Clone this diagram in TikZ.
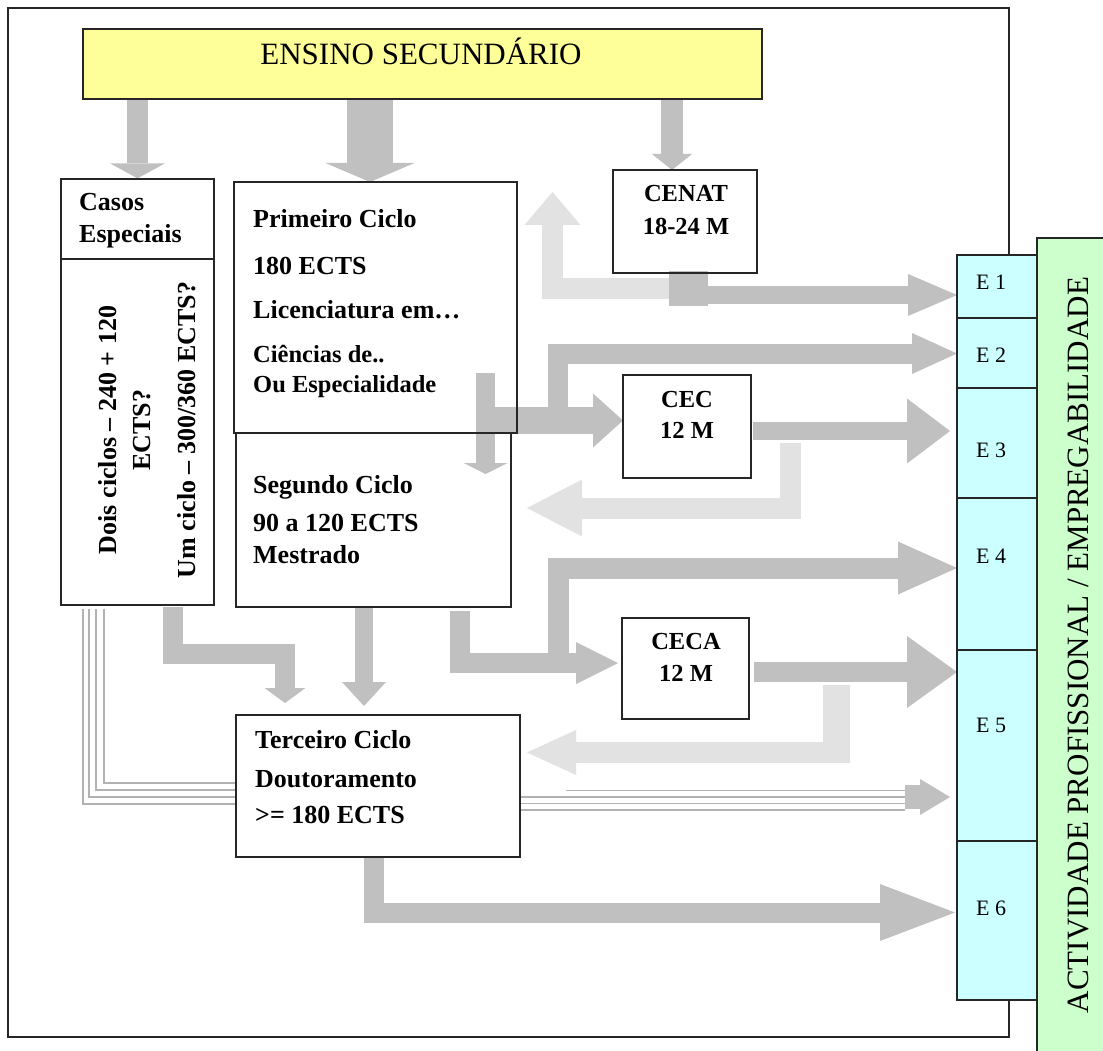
\documentclass[tikz,border=0pt]{standalone}
\usepackage{fontspec}
\setmainfont{Liberation Serif}
\usetikzlibrary{arrows.meta,backgrounds}
\definecolor{arrgray}{RGB}{192,192,192}
\definecolor{arrlight}{RGB}{226,226,226}
\definecolor{ensinoyellow}{RGB}{255,255,153}
\definecolor{ecyan}{RGB}{204,255,255}
\definecolor{agreen}{RGB}{204,255,204}
\definecolor{triplegray}{RGB}{178,178,178}
\begin{document}
\begin{tikzpicture}[x=1pt,y=-1pt,line join=miter,
    box/.style={draw=black!85,line width=1.3pt,inner sep=0pt},
    ecell/.style={box,fill=ecyan,minimum width=80pt},
    fat/.style n args={3}{draw=arrgray,line width=#1,line cap=butt,-{Triangle[length=#2,width=#3,line width=0pt]}},
    lfat/.style n args={3}{draw=arrlight,line width=#1,line cap=butt,-{Triangle[length=#2,width=#3,line width=0pt]}},
    triple/.style={draw=triplegray,line width=1.8pt},
    bigtxt/.style={inner sep=0pt,font=\fontsize{31pt}{36pt}\selectfont},
    cyctxt/.style={inner sep=0pt,anchor=base west,font=\fontsize{26pt}{30pt}\selectfont\bfseries},
    smalltxt/.style={inner sep=0pt,anchor=base west,font=\fontsize{24.5pt}{28pt}\selectfont\bfseries},
    ctxt/.style={inner sep=0pt,anchor=base,font=\fontsize{24.5pt}{28pt}\selectfont\bfseries},
    casrot/.style={inner sep=0pt,anchor=base,rotate=90,font=\fontsize{26pt}{30pt}\selectfont\bfseries},
    etxt/.style={inner sep=0pt,anchor=base west,font=\fontsize{22pt}{26pt}\selectfont}]
\useasboundingbox (0,0) rectangle (1103,1051);
% ---- caixas (px, origem no canto superior esquerdo, y para baixo) ----
\node[box,fill=ensinoyellow,minimum width=679pt,minimum height=70pt] (ensino) at (422.5,64) {};
\node[box,minimum width=153pt,minimum height=426pt] (casos) at (137.5,392) {};
\node[box,minimum width=283pt,minimum height=251pt] (primeiro) at (375.5,307.5) {};
\node[box,minimum width=275pt,minimum height=174pt] (segundo) at (373.5,520) {};
\node[box,minimum width=284pt,minimum height=142pt] (terceiro) at (378,786) {};
\node[box,minimum width=144pt,minimum height=103pt] (cenat) at (685,221.5) {};
\node[box,minimum width=128pt,minimum height=103pt] (cec) at (687,426.5) {};
\node[box,minimum width=127pt,minimum height=101pt] (ceca) at (685.5,668.5) {};
\coordinate (casosdiv) at (0,259);
\draw[box] (casos.west |- casosdiv) -- (casos.east |- casosdiv);   % divisao Casos / texto rodado
% ---- coluna E1..E6 e faixa verde ----
\node[box,fill=agreen,minimum width=73pt,minimum height=822pt] (activ) at (1073.5,649) {};
\node[ecell,minimum height=63pt]  (e1) at (997,286.5) {};
\node[ecell,minimum height=70pt]  (e2) at (997,353) {};
\node[ecell,minimum height=110pt] (e3) at (997,443) {};
\node[ecell,minimum height=152pt] (e4) at (997,574) {};
\node[ecell,minimum height=191pt] (e5) at (997,745.5) {};
\node[ecell,minimum height=159pt] (e6) at (997,920.5) {};
% ---- textos ----
\node[bigtxt,anchor=base] (ensinotxt) at (421,65) {ENSINO SECUNDÁRIO};
\node[bigtxt,anchor=base,rotate=90] (activtxt) at (1088,645) {ACTIVIDADE PROFISSIONAL / EMPREGABILIDADE};
\node[cyctxt] (casos1) at (79,211) {Casos};
\node[cyctxt] (casos2) at (79,243) {Especiais};
\node[casrot] (dois1) at (116,430) {Dois ciclos – 240 + 120};
\node[casrot] (dois2) at (150,430) {ECTS?};
\node[casrot] (um1) at (195,430) {Um ciclo – 300/360 ECTS?};
\node[cyctxt] (prim1) at (253,228) {Primeiro Ciclo};
\node[cyctxt] (prim2) at (253,274) {180 ECTS};
\node[cyctxt] (prim3) at (253,318) {Licenciatura em…};
\node[smalltxt] (prim4) at (253,362) {Ciências de..};
\node[smalltxt] (prim5) at (253,392) {Ou Especialidade};
\node[cyctxt] (seg1) at (253,493) {Segundo Ciclo};
\node[cyctxt] (seg2) at (253,531) {90 a 120 ECTS};
\node[cyctxt] (seg3) at (253,563) {Mestrado};
\node[cyctxt] (ter1) at (255,748) {Terceiro Ciclo};
\node[cyctxt] (ter2) at (255,787) {Doutoramento};
\node[cyctxt] (ter3) at (255,823) {>= 180 ECTS};
\node[ctxt] (cenat1) at (686,202) {CENAT};
\node[ctxt] (cenat2) at (686,234) {18-24 M};
\node[ctxt] (cec1) at (687,407) {CEC};
\node[ctxt] (cec2) at (687,438) {12 M};
\node[ctxt] (ceca1) at (686,649) {CECA};
\node[ctxt] (ceca2) at (686,681) {12 M};
\node[etxt] (e1txt) at (976,289) {E 1};
\node[etxt] (e2txt) at (976,362) {E 2};
\node[etxt] (e3txt) at (976,457) {E 3};
\node[etxt] (e4txt) at (976,563) {E 4};
\node[etxt] (e5txt) at (976,732) {E 5};
\node[etxt] (e6txt) at (976,915) {E 6};
% ---- pontos das setas ----
\coordinate (inPrim)  at (370,182);   \coordinate (inCenat) at (672,170);
\coordinate (cenatOut) at (669,295);  \coordinate (toE1) at (957,295);
\coordinate (cenatBack) at (670,288); \coordinate (cbCorner) at (552.5,288); \coordinate (cbTip) at (552.5,192);
\coordinate (primDown) at (485.5,373); \coordinate (primTip) at (485.5,474);
\coordinate (primOut) at (476,420.5); \coordinate (toCec) at (623,420.5);
\coordinate (br2a) at (557.5,420.5);  \coordinate (br2b) at (557.5,353.5); \coordinate (toE2) at (957,353.5);
\coordinate (cecOut) at (753,431);    \coordinate (toE3) at (950,431);
\coordinate (cecBack) at (790.5,443); \coordinate (cecCorner) at (790.5,508); \coordinate (cecTip) at (527,508);
\coordinate (segOut) at (460,611);    \coordinate (segCorner) at (460,663); \coordinate (toCeca) at (618,663);
\coordinate (br4a) at (558.5,663);    \coordinate (br4b) at (558.5,568); \coordinate (toE4) at (957,568);
\coordinate (cecaOut) at (754,672);   \coordinate (toE5) at (957,672);
\coordinate (cecaBack) at (850,752.5); \coordinate (cecaTip) at (527,752.5);
\coordinate (casOut) at (173,607);    \coordinate (casA) at (173,654); \coordinate (casB) at (285,654); \coordinate (casTip) at (285,703);
\coordinate (segDown) at (364,607);   \coordinate (segTip) at (364,706);
\coordinate (terOut) at (374,858);    \coordinate (terCorner) at (374,912.5); \coordinate (toE6) at (955,912.5);
% ---- fundo, moldura e setas (por baixo das caixas) ----
\begin{scope}[on background layer]
\fill[white] (0,0) rectangle (1103,1051);
\draw[box] (8,8) rectangle (1009,1037);                                  % moldura exterior
\draw[fat={21pt}{15pt}{55pt}] (ensino.south -| casos.north) -- (casos.north);
\draw[fat={46pt}{19pt}{89pt}] (ensino.south -| inPrim) -- (inPrim);
\draw[fat={22pt}{16pt}{40pt}] (ensino.south -| inCenat) -- (inCenat);
% CENAT: volta (clara) e saida para E1
\draw[lfat={21pt}{33pt}{56pt}] (cenatBack) -- (cbCorner) -- (cbTip);
\fill[arrgray] (669,271) rectangle (708,306);
\draw[fat={18pt}{49pt}{42pt}] (cenatOut) -- (toE1);
% Primeiro Ciclo -> Segundo, CEC, E2
\draw[fat={19pt}{11pt}{44pt}] (primDown) -- (primTip);
\draw[fat={27pt}{30pt}{54pt}] (primOut) -- (toCec);
\draw[fat={20pt}{45pt}{41pt}] (br2a) -- (br2b) -- (toE2);
% CEC -> E3 e volta
\draw[fat={18pt}{43pt}{65pt}] (cecOut) -- (toE3);
\draw[lfat={21pt}{55pt}{57pt}] (cecBack) -- (cecCorner) -- (cecTip);
% Segundo Ciclo -> CECA, E4
\draw[fat={20pt}{42pt}{42pt}] (segOut) -- (segCorner) -- (toCeca);
\draw[fat={21pt}{59pt}{53pt}] (br4a) -- (br4b) -- (toE4);
% CECA -> E5 e volta
\draw[fat={20pt}{50pt}{72pt}] (cecaOut) -- (toE5);
\fill[arrlight] (823,685) rectangle (850,763);
\draw[lfat={21pt}{49pt}{45pt}] (cecaBack) -- (cecaTip);
% -> Terceiro Ciclo
\draw[fat={20pt}{15pt}{41pt}] (casOut) -- (casA) -- (casB) -- (casTip);
\draw[fat={18pt}{24pt}{44pt}] (segDown) -- (segTip);
\draw[fat={20pt}{75pt}{57pt}] (terOut) -- (terCorner) -- (toE6);
% linhas triplas Casos -> Terceiro -> E5
\draw[triple] (83,609) -- (83,804) -- (terceiro.west |- 0,804);
\draw[triple] (89,609) -- (89,797) -- (terceiro.west |- 0,797);
\draw[triple] (96,609) -- (96,790) -- (terceiro.west |- 0,790);
\draw[triple] (104,609) -- (104,783) -- (terceiro.west |- 0,783);
\draw[triple] (terceiro.east |- 0,797) -- (905,797);
\draw[triple] (terceiro.east |- 0,803.5) -- (905,803.5);
\draw[triple] (terceiro.east |- 0,810) -- (905,810);
\draw[triplegray,line width=1pt] (566,790) -- (905,790);
\draw[fat={24pt}{30pt}{36pt}] (905,797) -- (950,797);
\end{scope}
\end{tikzpicture}
\end{document}
